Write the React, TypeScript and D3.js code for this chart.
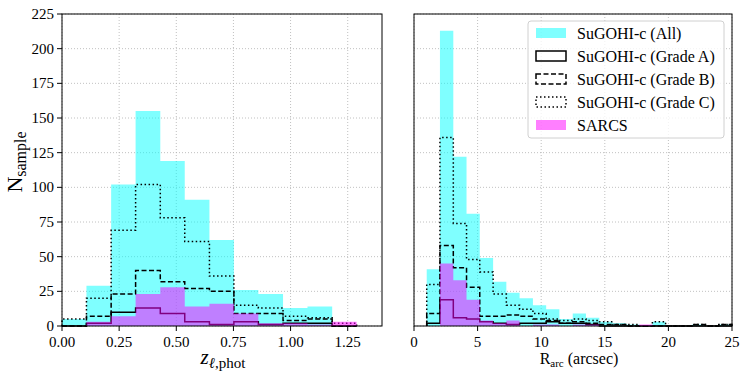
import * as d3 from 'd3';
import { useEffect, useRef } from 'react';

// lens redshift histogram (12 bins)
const zEdges = [0.0, 0.107, 0.215, 0.322, 0.43, 0.537, 0.645, 0.752, 0.859, 0.967, 1.074, 1.182, 1.289];
const zAll = [5, 29, 102, 155, 119, 91, 62, 26, 23, 13, 14, 0];
const zGradeA = [0, 2, 10, 13, 9, 3, 1, 3, 1, 2, 2, 0];
const zGradeB = [0, 7, 23, 40, 32, 27, 25, 9, 9, 4, 5, 0];
const zGradeC = [5, 20, 69, 102, 78, 61, 36, 15, 13, 7, 6, 2];
const zSarcs = [0, 3, 7, 23, 28, 14, 16, 9, 2, 2, 1, 3];
const zTicks = [0, 0.25, 0.5, 0.75, 1.0, 1.25];

// arc radius histogram (23 bins)
const rEdges = [1.0, 2.04, 3.09, 4.13, 5.17, 6.22, 7.26, 8.3, 9.35, 10.39, 11.43, 12.48, 13.52, 14.57, 15.61, 16.65, 17.7, 18.74, 19.78, 20.83, 21.87, 22.91, 23.96, 25.0];
const rAll = [41, 213, 122, 81, 49, 32, 24, 20, 15, 12, 5, 9, 6, 3, 2, 1, 0, 3, 0, 0, 1, 0, 1];
const rGradeA = [2, 19, 6, 5, 3, 2, 1, 2, 2, 3, 2, 2, 1, 0, 0, 0, 0, 0, 0, 0, 0, 0, 0];
const rGradeB = [9, 58, 42, 28, 7, 7, 8, 7, 5, 4, 2, 3, 2, 1, 1, 0, 0, 0, 0, 0, 1, 0, 1];
const rGradeC = [30, 136, 74, 48, 39, 23, 15, 12, 9, 5, 4, 5, 4, 3, 1, 1, 0, 3, 0, 0, 1, 0, 1];
const rSarcs = [0, 45, 33, 19, 4, 2, 4, 0, 1, 1, 0, 1, 1, 0, 0, 0, 1, 0, 0, 0, 0, 0, 0];
const rTicks = [0, 5, 10, 15, 20, 25];

const yTicks = [0, 25, 50, 75, 100, 125, 150, 175, 200, 225];

const legendLabels = ['SuGOHI-c (All)', 'SuGOHI-c (Grade A)', 'SuGOHI-c (Grade B)', 'SuGOHI-c (Grade C)', 'SARCS'];

const W = 747, H = 379;
const FONT = '"Liberation Serif", "DejaVu Serif", serif';
const CYAN = '#00ffff', MAGENTA = '#ff00ff';
const DASH = '5,2.5', DOT = '1.5,2.5';

function App() {
  const ref = useRef<SVGSVGElement>(null);

  useEffect(() => {
    const svg = d3.select(ref.current);
    svg.selectAll('*').remove();

    const y = d3.scaleLinear().domain([0, 225]).range([326, 14]);

    const panel = (x0: number, x1: number, domain: number[], ticks: number[], fmt: (v: number) => string,
      edges: number[], all: number[], a: number[], b: number[], c: number[], sarcs: number[], showY: boolean) => {
      const x = d3.scaleLinear().domain(domain).range([x0, x1]);
      const g = svg.append('g');

      // grid
      g.selectAll('.gx').data(ticks).join('line')
        .attr('x1', d => x(d)).attr('x2', d => x(d)).attr('y1', 14).attr('y2', 326)
        .attr('stroke', '#b0b0b0').attr('stroke-width', 0.8).attr('stroke-dasharray', '1,2');
      g.selectAll('.gy').data(yTicks).join('line')
        .attr('x1', x0).attr('x2', x1).attr('y1', d => y(d)).attr('y2', d => y(d))
        .attr('stroke', '#b0b0b0').attr('stroke-width', 0.8).attr('stroke-dasharray', '1,2');

      const filled = (counts: number[]) => {
        let p = `M${x(edges[0])},${y(0)}`;
        counts.forEach((v, i) => { p += `V${y(v)}H${x(edges[i + 1])}`; });
        return p + `V${y(0)}Z`;
      };
      const step = (counts: number[]) => {
        let p = `M${x(edges[0])},${y(0)}`;
        counts.forEach((v, i) => { p += `V${y(v)}H${x(edges[i + 1])}`; });
        return p + `V${y(0)}`;
      };

      g.append('path').attr('d', filled(all)).attr('fill', CYAN).attr('fill-opacity', 0.5);
      g.append('path').attr('d', step(a)).attr('fill', 'none').attr('stroke', '#000').attr('stroke-width', 1.5);
      g.append('path').attr('d', step(b)).attr('fill', 'none').attr('stroke', '#000').attr('stroke-width', 1.5).attr('stroke-dasharray', DASH);
      g.append('path').attr('d', step(c)).attr('fill', 'none').attr('stroke', '#000').attr('stroke-width', 1.5).attr('stroke-dasharray', DOT);
      g.append('path').attr('d', filled(sarcs)).attr('fill', MAGENTA).attr('fill-opacity', 0.5);

      // frame
      g.append('rect').attr('x', x0).attr('y', 14).attr('width', x1 - x0).attr('height', 312)
        .attr('fill', 'none').attr('stroke', '#000').attr('stroke-width', 1);

      // x ticks
      const xt = g.selectAll('.xt').data(ticks).join('g').attr('transform', d => `translate(${x(d)},326)`);
      xt.append('line').attr('y2', 5).attr('stroke', '#000');
      xt.append('text').attr('y', 21).attr('text-anchor', 'middle')
        .style('font-family', FONT).style('font-size', '15px').text(d => fmt(d));

      if (showY) {
        const yt = g.selectAll('.yt').data(yTicks).join('g').attr('transform', d => `translate(${x0},${y(d)})`);
        yt.append('line').attr('x2', -5).attr('stroke', '#000');
        yt.append('text').attr('x', -8).attr('dy', '0.33em').attr('text-anchor', 'end')
          .style('font-family', FONT).style('font-size', '15px').text(d => String(d));
      }
      return g;
    };

    panel(62, 382, [0, 1.4], zTicks, d3.format('.2f'), zEdges, zAll, zGradeA, zGradeB, zGradeC, zSarcs, true);
    panel(414, 732, [0, 25], rTicks, d3.format('d'), rEdges, rAll, rGradeA, rGradeB, rGradeC, rSarcs, false);

    // axis labels
    const zl = svg.append('text').attr('x', 223).attr('y', 364).attr('text-anchor', 'middle')
      .style('font-family', FONT).style('font-size', '21px');
    zl.append('tspan').style('font-style', 'italic').text('z');
    zl.append('tspan').attr('dy', 4).style('font-size', '15px').style('font-style', 'italic').text('ℓ');
    zl.append('tspan').style('font-size', '15px').text(',phot');

    const rl = svg.append('text').attr('x', 579).attr('y', 364).attr('text-anchor', 'middle')
      .style('font-family', FONT).style('font-size', '16px');
    rl.append('tspan').text('R');
    rl.append('tspan').attr('dy', 3).style('font-size', '11px').text('arc');
    rl.append('tspan').attr('dy', -3).text(' (arcsec)');

    const nl = svg.append('text').attr('transform', 'translate(22,162) rotate(-90)').attr('text-anchor', 'middle')
      .style('font-family', FONT).style('font-size', '22px');
    nl.append('tspan').text('N');
    nl.append('tspan').attr('dy', 4).style('font-size', '16px').text('sample');

    // legend
    const lg = svg.append('g').attr('transform', 'translate(528,21)');
    lg.append('rect').attr('width', 196).attr('height', 117).attr('rx', 3)
      .attr('fill', '#fff').attr('fill-opacity', 0.8).attr('stroke', '#d0d0d0');
    legendLabels.forEach((label, i) => {
      const row = lg.append('g').attr('transform', `translate(0,${12 + i * 23})`);
      const patch = row.append('rect').attr('x', 8).attr('y', -5).attr('width', 30).attr('height', 10);
      if (i === 0) patch.attr('fill', CYAN).attr('fill-opacity', 0.5);
      else if (i === 4) patch.attr('fill', MAGENTA).attr('fill-opacity', 0.5);
      else {
        patch.attr('fill', 'none').attr('stroke', '#000').attr('stroke-width', 1.5);
        if (i === 2) patch.attr('stroke-dasharray', DASH);
        if (i === 3) patch.attr('stroke-dasharray', DOT);
      }
      row.append('text').attr('x', 49).attr('dy', '0.35em')
        .style('font-family', FONT).style('font-size', '16px').text(label);
    });
  }, []);

  return (
    <div style={{ position: 'absolute', left: 0, top: 0 }}>
      <svg ref={ref} width={W} height={H} style={{ display: 'block', background: '#fff' }} />
    </div>
  );
}

export default App;
